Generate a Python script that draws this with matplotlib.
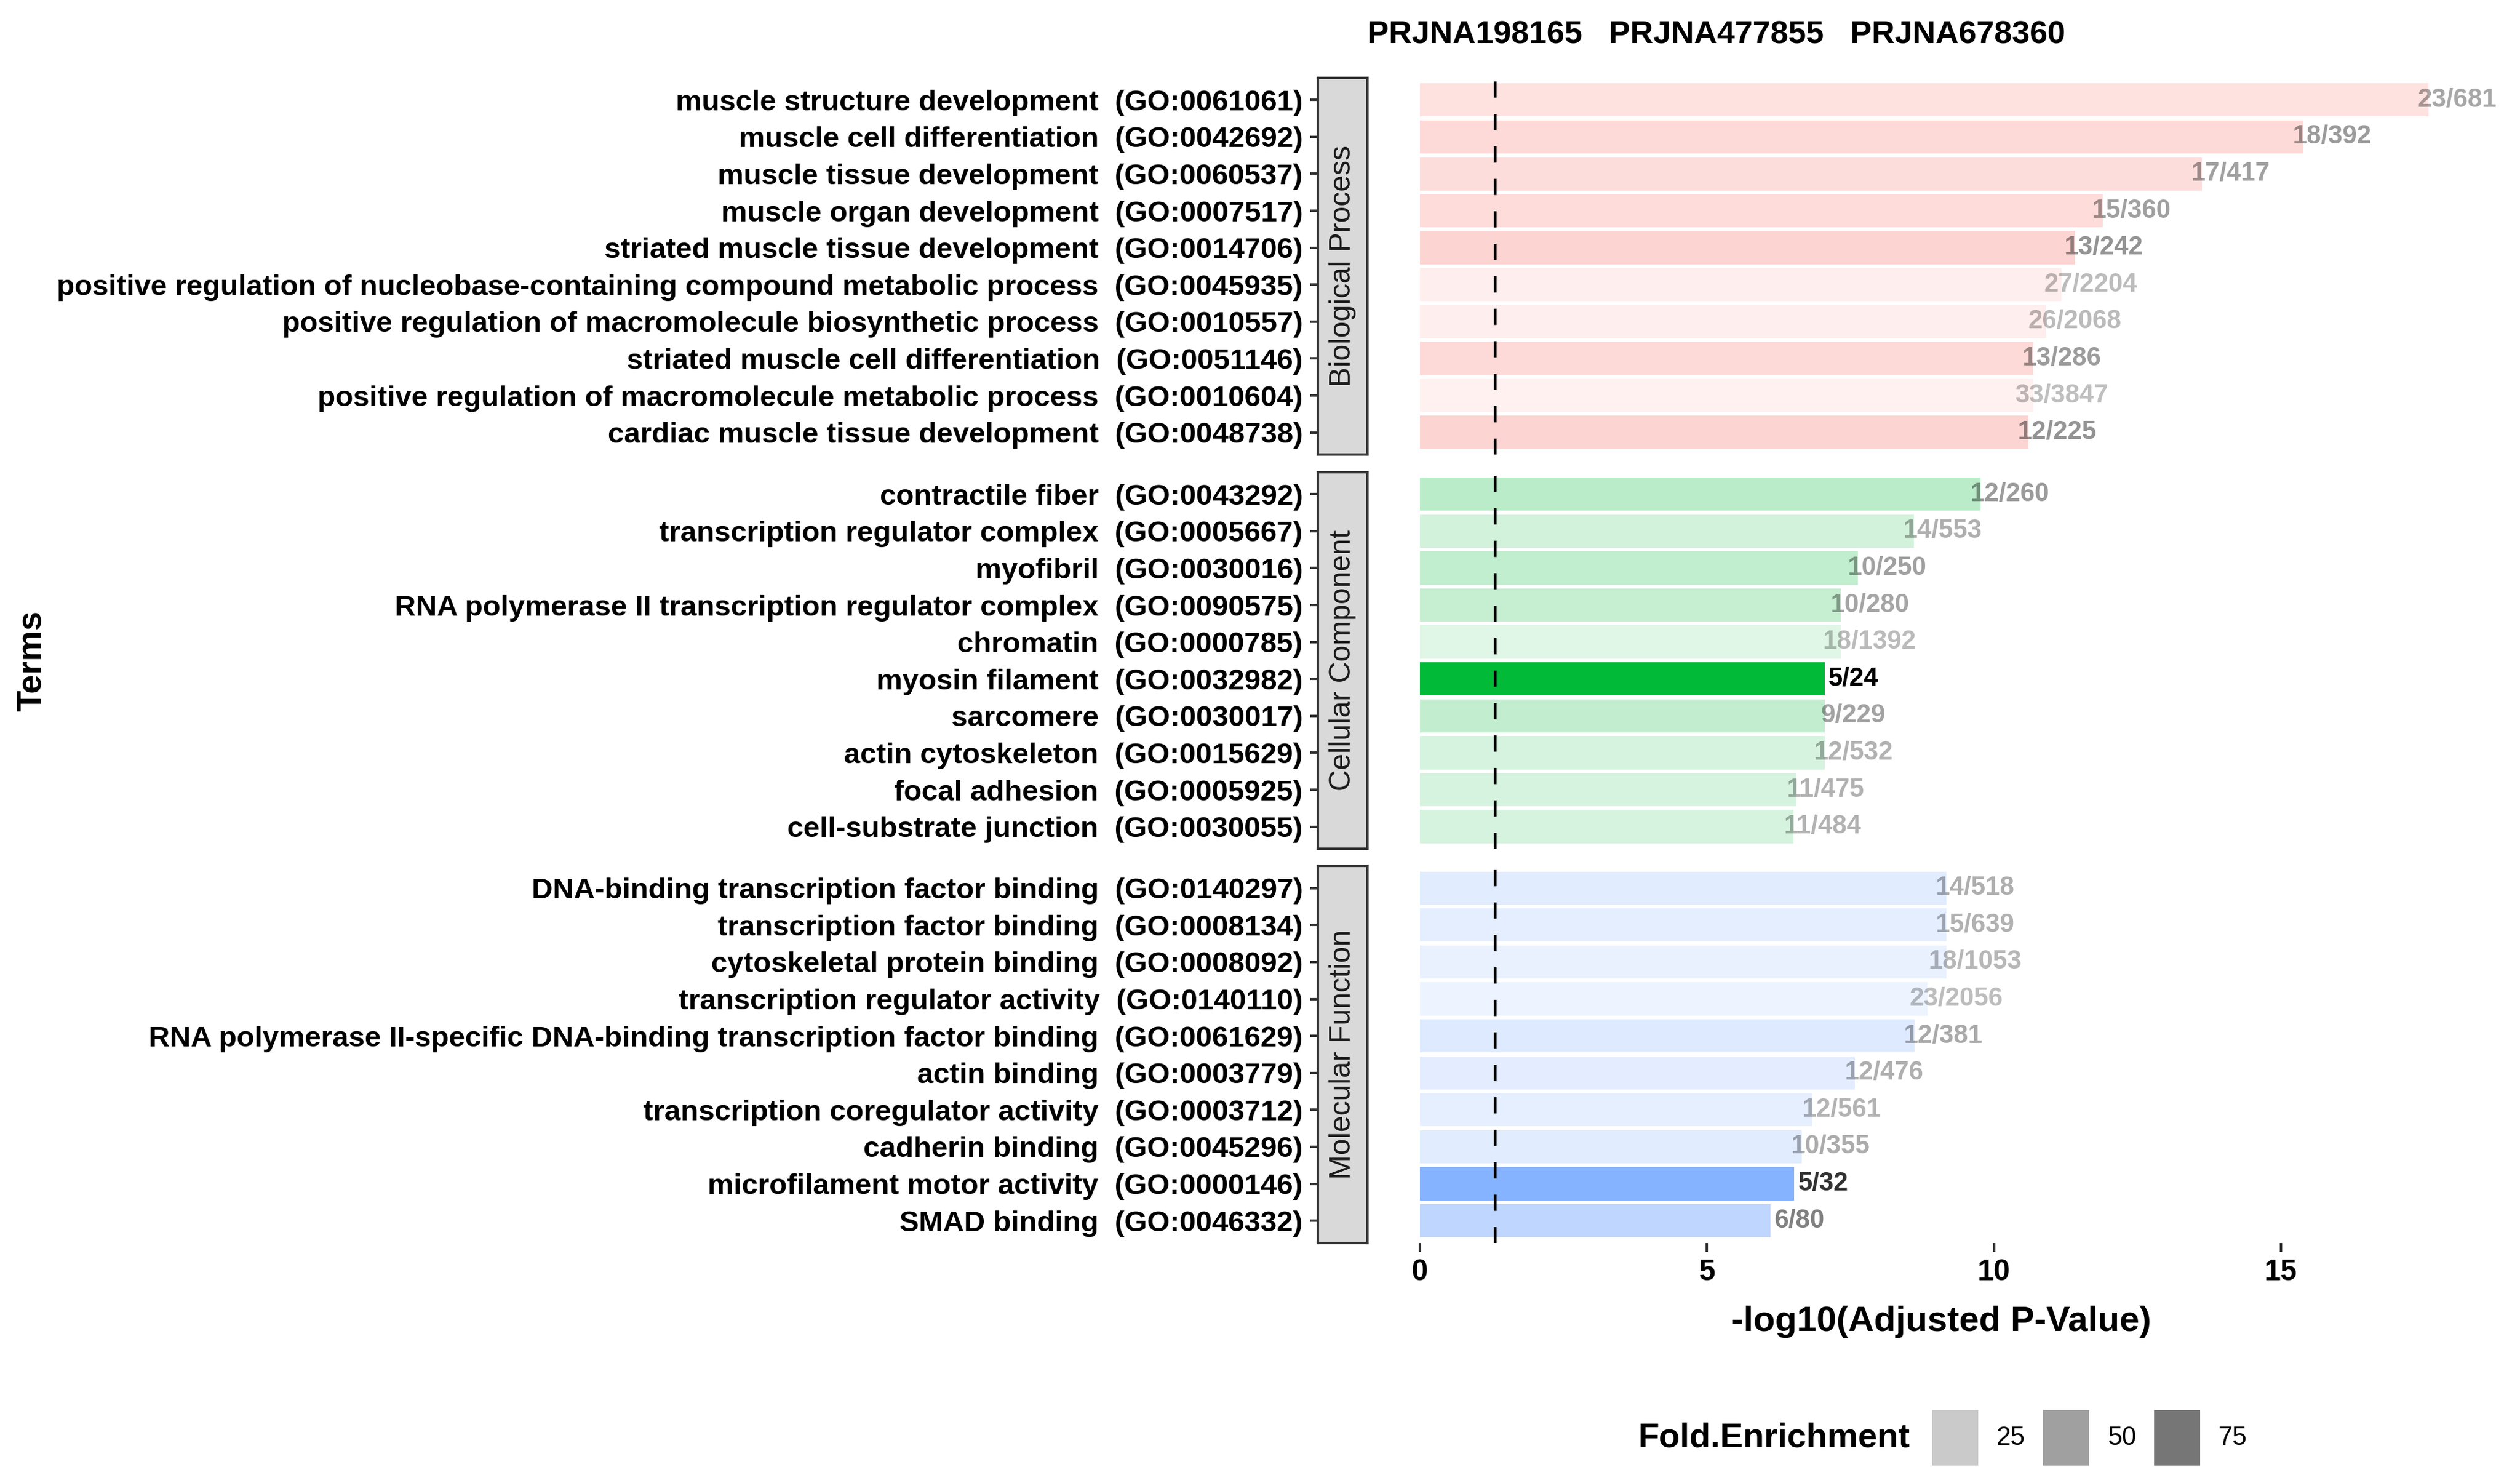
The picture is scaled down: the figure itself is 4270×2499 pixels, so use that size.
import numpy as np
import matplotlib
matplotlib.use('Agg')
import matplotlib.pyplot as plt
from matplotlib.colors import to_rgb
from matplotlib.patches import Rectangle

plt.rcParams['font.family'] = ['Liberation Sans', 'DejaVu Sans']

# ---- data ----
categories = ['Biological Process', 'Cellular Component', 'Molecular Function']
cat_colors = ['#F8766D', '#00BA38', '#619CFF']
datasets = 'PRJNA198165   PRJNA477855   PRJNA678360'

bp_terms = ['muscle structure development', 'muscle cell differentiation',
            'muscle tissue development', 'muscle organ development',
            'striated muscle tissue development',
            'positive regulation of nucleobase-containing compound metabolic process',
            'positive regulation of macromolecule biosynthetic process',
            'striated muscle cell differentiation',
            'positive regulation of macromolecule metabolic process',
            'cardiac muscle tissue development']
bp_go = ['GO:0061061', 'GO:0042692', 'GO:0060537', 'GO:0007517', 'GO:0014706',
         'GO:0045935', 'GO:0010557', 'GO:0051146', 'GO:0010604', 'GO:0048738']
bp_count = [23, 18, 17, 15, 13, 27, 26, 13, 33, 12]
bp_bg = [681, 392, 417, 360, 242, 2204, 2068, 286, 3847, 225]
bp_logp = [17.57, 15.39, 13.62, 11.89, 11.41, 11.18, 10.91, 10.68, 10.68, 10.60]

cc_terms = ['contractile fiber', 'transcription regulator complex', 'myofibril',
            'RNA polymerase II transcription regulator complex', 'chromatin',
            'myosin filament', 'sarcomere', 'actin cytoskeleton', 'focal adhesion',
            'cell-substrate junction']
cc_go = ['GO:0043292', 'GO:0005667', 'GO:0030016', 'GO:0090575', 'GO:0000785',
         'GO:0032982', 'GO:0030017', 'GO:0015629', 'GO:0005925', 'GO:0030055']
cc_count = [12, 14, 10, 10, 18, 5, 9, 12, 11, 11]
cc_bg = [260, 553, 250, 280, 1392, 24, 229, 532, 475, 484]
cc_logp = [9.77, 8.60, 7.63, 7.33, 7.33, 7.05, 7.05, 7.05, 6.56, 6.51]

mf_terms = ['DNA-binding transcription factor binding', 'transcription factor binding',
            'cytoskeletal protein binding', 'transcription regulator activity',
            'RNA polymerase II-specific DNA-binding transcription factor binding',
            'actin binding', 'transcription coregulator activity', 'cadherin binding',
            'microfilament motor activity', 'SMAD binding']
mf_go = ['GO:0140297', 'GO:0008134', 'GO:0008092', 'GO:0140110', 'GO:0061629',
         'GO:0003779', 'GO:0003712', 'GO:0045296', 'GO:0000146', 'GO:0046332']
mf_count = [14, 15, 18, 23, 12, 12, 12, 10, 5, 6]
mf_bg = [518, 639, 1053, 2056, 381, 476, 561, 355, 32, 80]
mf_logp = [9.17, 9.17, 9.17, 8.84, 8.61, 7.58, 6.84, 6.65, 6.52, 6.11]

legend_values = [25, 50, 75]
n_input = 45
n_background = 19800
p_cutoff = 0.05

groups = [(bp_terms, bp_go, bp_count, bp_bg, bp_logp),
          (cc_terms, cc_go, cc_count, cc_bg, cc_logp),
          (mf_terms, mf_go, mf_count, mf_bg, mf_logp)]

# fold enrichment -> alpha, like scale_alpha(range = c(0.1, 1))
fold = [np.array(g[2]) / np.array(g[3]) * n_background / n_input for g in groups]
fe_min = min(f.min() for f in fold)
fe_max = max(f.max() for f in fold)


def rescale(v):
    return (v - fe_min) / (fe_max - fe_min)


def scale_alpha(v):
    return 0.1 + 0.9 * rescale(v)


x_max = max(max(g[4]) for g in groups) * 1.05

fig = plt.figure(figsize=(4270 / 300, 2499 / 300), dpi=300)

panel_left, panel_w = 0.5635, 0.4202
strip_left, strip_w = 0.523, 0.0197
tops = [0.9473, 0.6800, 0.4129]
h = 0.2555

for i, (terms, gos, counts, bgs, logp) in enumerate(groups):
    n = len(terms)
    y = np.arange(n)[::-1]
    fe = fold[i]
    base = to_rgb(cat_colors[i])

    ax = fig.add_axes([panel_left, tops[i] - h, panel_w, h])
    ax.barh(y, logp, height=0.9, color=[(*base, a) for a in scale_alpha(fe)], linewidth=0)
    ax.axvline(-np.log10(p_cutoff), color='black', linestyle=(0, (6, 6)), lw=1.1)
    for yi, v, c, b, f in zip(y, logp, counts, bgs, fe):
        ax.text(v + 0.5, yi, f'{c}/{b}', ha='center', va='center', fontsize=10.5,
                fontweight='bold', color=(0, 0, 0, 0.25 + 0.75 * rescale(f)), clip_on=False)
    ax.set_xlim(0, x_max)
    ax.set_ylim(-0.6, n - 0.4)
    for s in ax.spines.values():
        s.set_visible(False)
    ax.set_yticks([])
    if i < 2:
        ax.set_xticks([])
    else:
        ax.set_xticks([0, 5, 10, 15])
        ax.set_xticklabels(['0', '5', '10', '15'], fontsize=12, fontweight='bold')
        ax.tick_params(axis='x', length=3.6, width=1.0, color='#333333', pad=3)

    # strip with the term labels on its left side
    st = fig.add_axes([strip_left, tops[i] - h, strip_w, h])
    st.set_facecolor('#D9D9D9')
    for s in st.spines.values():
        s.set_color('#333333')
        s.set_linewidth(1.0)
    st.set_xticks([])
    st.set_ylim(-0.6, n - 0.4)
    st.set_yticks(y)
    st.set_yticklabels([f'{t}  ({g})' for t, g in zip(terms, gos)], fontsize=11.85, fontweight='bold')
    st.tick_params(axis='y', length=3.2, width=1.0, color='#333333', pad=3)
    st.text(0.5, 0.5, categories[i], rotation=90, ha='center', va='center',
            transform=st.transAxes, fontsize=12, color='#1A1A1A')

fig.text(0.5427, 0.976, datasets, fontsize=13, fontweight='bold', ha='left', va='center')
fig.text(0.0125, 0.552, 'Terms', rotation=90, fontsize=14, fontweight='bold', ha='center', va='center')
fig.text(0.7704, 0.104, '-log10(Adjusted P-Value)', fontsize=14.5, fontweight='bold', ha='center', va='center')

# alpha legend
fig.text(0.650, 0.0252, 'Fold.Enrichment', fontsize=14, fontweight='bold', ha='left', va='center')
for k, v in enumerate(legend_values):
    x0 = 0.7667 + k * 0.0440
    fig.add_artist(Rectangle((x0, 0.0064), 0.0183, 0.0376, transform=fig.transFigure,
                             facecolor=(0.349, 0.349, 0.349, scale_alpha(v)), edgecolor='none'))
    fig.text(x0 + 0.0256, 0.0252, str(v), fontsize=10.5, ha='left', va='center')

fig.savefig('out.png', dpi=300, facecolor='white')
